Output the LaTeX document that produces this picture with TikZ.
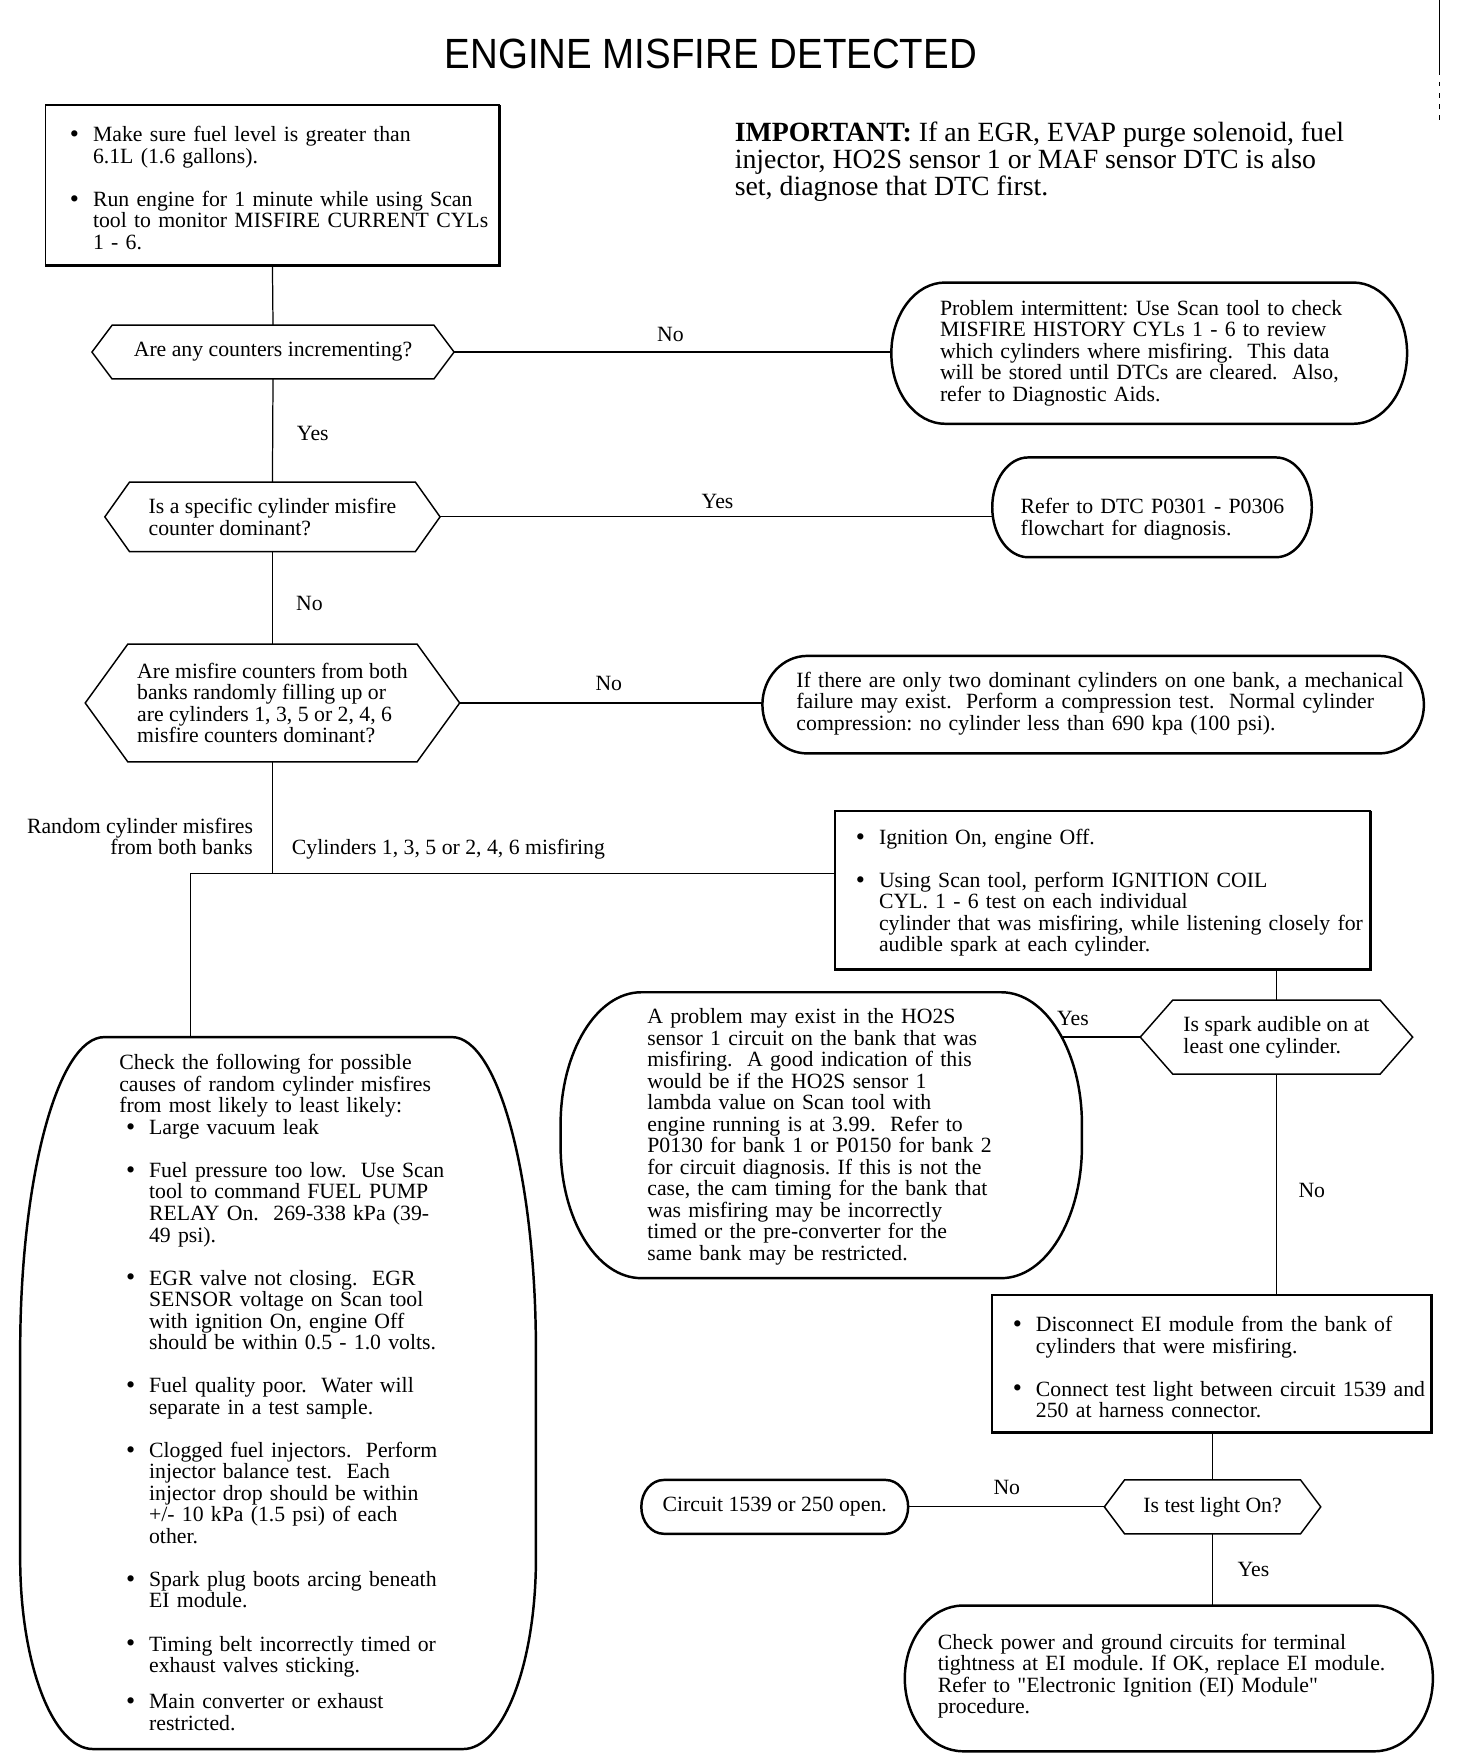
\documentclass[tikz,border=0pt]{standalone}
\usepackage{fontspec}
\setmainfont{Liberation Serif}
\newfontfamily\titlefont{Liberation Sans}
\usepackage{graphicx}
\pgfdeclarelayer{bg}
\pgfdeclarelayer{shp}
\pgfsetlayers{bg,shp,main}
\setlength{\parindent}{0pt}
\frenchspacing
\newcommand\bulmark{\raisebox{-0.08ex}{\scalebox{1.2}{\textbullet}}}
\newcommand\bul[2][0pt]{\par\noindent\hangindent=\dimexpr#1+10.3pt\relax\hangafter=1\hspace*{#1}\makebox[10.3pt][l]{\bulmark}#2\par}
\newcommand\gap[1][9.6pt]{\vspace{#1}}
% stadium: node, top rx, top ry, bottom rx, bottom ry
\newcommand\stadium[5]{%
  \begin{pgfonlayer}{shp}
  \draw[termline] ([xshift=#2]#1.north west) -- ([xshift=-#2]#1.north east)
    arc[start angle=90,end angle=0,x radius=#2,y radius=#3]
    -- ([yshift=#5]#1.south east)
    arc[start angle=0,end angle=-90,x radius=#4,y radius=#5]
    -- ([xshift=#4]#1.south west)
    arc[start angle=-90,end angle=-180,x radius=#4,y radius=#5]
    -- ([yshift=-#3]#1.north west)
    arc[start angle=180,end angle=90,x radius=#2,y radius=#3] -- cycle;
  \end{pgfonlayer}}
\newcommand\hexa[2]{%
  \begin{pgfonlayer}{shp}
  \draw[hexline] (#1.west) -- ([xshift=#2]#1.north west) -- ([xshift=-#2]#1.north east)
    -- (#1.east) -- ([xshift=-#2]#1.south east) -- ([xshift=#2]#1.south west) -- cycle;
  \end{pgfonlayer}}
\newcommand\rbox[1]{%
  \begin{pgfonlayer}{shp}
  \draw[boxline] (#1.north west) rectangle (#1.south east);
  \draw[boxshadow] (#1.north east) -- (#1.south east) -- (#1.south west);
  \end{pgfonlayer}}
\tikzset{
  frame/.style={inner sep=0pt, outer sep=0pt},
  sz/.style 2 args={minimum width=#1*0.5pt, minimum height=#2*0.5pt},
  hexnode/.style={inner sep=0pt, outer sep=0pt, align=left},
  txt/.style={anchor=west, align=left, text width=330pt, inner sep=0pt},
  lbl/.style={inner sep=0pt},
  conn/.style={line width=0.55pt},
  hexline/.style={line width=0.65pt, fill=white, line join=miter},
  termline/.style={line width=1.1pt, fill=white, line join=round},
  boxline/.style={line width=0.8pt, fill=white},
  boxshadow/.style={line width=1.4pt}
}
\begin{document}
\begin{tikzpicture}[x=0.5pt,y=-0.5pt,
  every node/.style={font=\fontsize{9.7}{9.6}\selectfont}]
\useasboundingbox (0,0) rectangle (1299,1568);
\begin{pgfonlayer}{bg}
\fill[white] (0,0) rectangle (1299,1568);
\end{pgfonlayer}

% title and note
\node[lbl] (title) at (634,48) {\titlefont\fontsize{18.85}{20}\selectfont\scalebox{0.91}[1]{ENGINE MISFIRE DETECTED}};
\node[lbl, anchor=west, align=left, font=\fontsize{12.4}{12}\selectfont] (note) at (655,144)
  {\textbf{IMPORTANT:} If an EGR, EVAP purge solenoid, fuel\\injector, HO2S sensor 1 or MAF sensor DTC is also\\set, diagnose that DTC first.};
\draw[line width=0.6pt] (1284,0) -- (1284,63);
\draw[line width=0.6pt, dash pattern=on 2pt off 3pt] (1284,63) -- (1284,107);

% shape nodes
\node[frame, sz={405}{143}] (box1) at (243,165.5) {};
\node[hexnode, sz={323}{48}] (d1) at (243.5,314) {Are any counters incrementing?};
\node[frame, sz={460}{126}] (t1) at (1025,315) {};
\node[hexnode, sz={299}{62}] (d2) at (243,461) {Is a specific cylinder misfire\\counter dominant?};
\node[frame, sz={285}{89}] (t2) at (1027.5,452.5) {};
\node[hexnode, sz={334}{105}] (d3) at (243,627) {Are misfire counters from both\\banks randomly filling up or\\are cylinders 1, 3, 5 or 2, 4, 6\\misfire counters dominant?};
\node[frame, sz={590}{87}] (t3) at (975,628.5) {};
\node[frame, sz={477}{142}] (ign) at (983.5,794) {};
\node[hexnode, sz={243}{66}] (d4) at (1138.5,925) {Is spark audible on at\\least one cylinder.};
\node[frame, sz={465}{255}] (t4) at (732.5,1012.5) {};
\node[frame, sz={392}{123}] (box3) at (1081,1216.5) {};
\node[hexnode, sz={193}{48}] (d5) at (1081.5,1344) {Is test light On?};
\node[frame, sz={238}{48}] (t5) at (691,1344) {Circuit 1539 or 250 open.};
\node[frame, sz={471}{130}] (t6) at (1042.5,1497) {};
\node[frame, sz={460}{635}] (tL) at (248,1242.5) {};
\coordinate (jL) at (170,779);

% outlines
\rbox{box1}
\rbox{ign}
\rbox{box3}
\hexa{d1}{9pt}
\hexa{d2}{11pt}
\hexa{d3}{19pt}
\hexa{d4}{14.5pt}
\hexa{d5}{9pt}
\stadium{t1}{24pt}{31.5pt}{24pt}{31.5pt}
\stadium{t2}{16pt}{22.25pt}{16pt}{22.25pt}
\stadium{t3}{20pt}{21.75pt}{20pt}{21.75pt}
\stadium{t4}{36pt}{59pt}{36pt}{59pt}
\stadium{t5}{10pt}{12pt}{10pt}{12pt}
\stadium{t6}{26pt}{32.5pt}{26pt}{32.5pt}
\stadium{tL}{37.5pt}{140pt}{32.5pt}{85pt}

% connectors
\begin{pgfonlayer}{bg}
\draw[conn] (box1.south) -- (d1.north);
\draw[conn] (d1.east) -- (d1.east -| t1.center);
\draw[conn] (d1.south) -- (d2.north);
\draw[conn] (d2.east) -- (d2.east -| t2.center);
\draw[conn] (d2.south) -- (d3.north);
\draw[conn] (d3.east) -- (d3.east -| t3.center);
\draw[conn] (d3.south) -- (d3.south |- jL);
\draw[conn] (jL) -- (jL -| ign.west);
\draw[conn] (jL) -- (jL |- tL.center);
\draw[conn] (ign.south -| d4.north) -- (d4.north);
\draw[conn] (d4.west) -- (d4.west -| t4.center);
\draw[conn] (d4.south) -- (d4.south |- box3.north);
\draw[conn] (box3.south -| d5.north) -- (d5.north);
\draw[conn] (d5.west) -- (d5.west -| t5.center);
\draw[conn] (d5.south) -- (d5.south |- t6.center);
\end{pgfonlayer}

% connector labels
\node[lbl] (l1) at (598,298) {No};
\node[lbl] (l2) at (279,387) {Yes};
\node[lbl] (l3) at (640,447) {Yes};
\node[lbl] (l4) at (276,538) {No};
\node[lbl] (l5) at (543,610) {No};
\node[lbl, anchor=east, align=right] (l6) at (226,746) {Random cylinder misfires\\from both banks};
\node[lbl, anchor=west] (l7) at (260,757) {Cylinders 1, 3, 5 or 2, 4, 6 misfiring};
\node[lbl] (l8) at (957,908) {Yes};
\node[lbl] (l9) at (1170,1062) {No};
\node[lbl] (l10) at (898,1327) {No};
\node[lbl] (l11) at (1118,1400) {Yes};

% texts
\node[txt] (box1txt) at (62,165) {%
\bul{Make sure fuel level is greater than\newline 6.1L (1.6 gallons).}\gap
\bul{Run engine for 1 minute while using Scan\newline tool to monitor MISFIRE CURRENT CYLs\newline 1 - 6.}};
\node[txt] (t1txt) at (838,315) {Problem intermittent: Use Scan tool to check\newline MISFIRE HISTORY CYLs 1 - 6 to review\newline which cylinders where misfiring.\ \ This data\newline will be stored until DTCs are cleared.\ \ Also,\newline refer to Diagnostic Aids.};
\node[txt] (t2txt) at (910,463) {Refer to DTC P0301 - P0306\newline flowchart for diagnosis.};
\node[txt] (t3txt) at (710,627.5) {If there are only two dominant cylinders on one bank, a mechanical\newline failure may exist.\ \ Perform a compression test.\ \ Normal cylinder\newline compression: no cylinder less than 690 kpa (100 psi).};
\node[txt] (igntxt) at (763,793.5) {%
\bul{Ignition On, engine Off.}\gap
\bul{Using Scan tool, perform IGNITION COIL\newline CYL. 1 - 6 test on each individual\newline cylinder that was misfiring, while listening closely for\newline audible spark at each cylinder.}};
\node[txt] (t4txt) at (577,1014) {A problem may exist in the HO2S\newline sensor 1 circuit on the bank that was\newline misfiring.\ \ A good indication of this\newline would be if the HO2S sensor 1\newline lambda value on Scan tool with\newline engine running is at 3.99.\ \ Refer to\newline P0130 for bank 1 or P0150 for bank 2\newline for circuit diagnosis. If this is not the\newline case, the cam timing for the bank that\newline was misfiring may be incorrectly\newline timed or the pre-converter for the\newline same bank may be restricted.};
\node[txt] (box3txt) at (903,1216.5) {%
\bul{Disconnect EI module from the bank of\newline cylinders that were misfiring.}\gap
\bul{Connect test light between circuit 1539 and\newline 250 at harness connector.}};
\node[txt] (t6txt) at (836,1495) {Check power and ground circuits for terminal\newline tightness at EI module. If OK, replace EI module.\newline Refer to \textquotedbl Electronic Ignition (EI) Module\textquotedbl\newline procedure.};
\node[txt] (tLtxt) at (106,1242) {%
\noindent Check the following for possible\newline causes of random cylinder misfires\newline from most likely to least likely:\par
\bul[3pt]{Large vacuum leak}\gap
\bul[3pt]{Fuel pressure too low.\ \ Use Scan\newline tool to command FUEL PUMP\newline RELAY On.\ \ 269-338 kPa (39-\newline 49 psi).}\gap
\bul[3pt]{EGR valve not closing.\ \ EGR\newline SENSOR voltage on Scan tool\newline with ignition On, engine Off\newline should be within 0.5 - 1.0 volts.}\gap
\bul[3pt]{Fuel quality poor.\ \ Water will\newline separate in a test sample.}\gap
\bul[3pt]{Clogged fuel injectors.\ \ Perform\newline injector balance test.\ \ Each\newline injector drop should be within\newline +/- 10 kPa (1.5 psi) of each\newline other.}\gap
\bul[3pt]{Spark plug boots arcing beneath\newline EI module.}\gap
\bul[3pt]{Timing belt incorrectly timed or\newline exhaust valves sticking.}\gap[6.5pt]
\bul[3pt]{Main converter or exhaust\newline restricted.}};
\end{tikzpicture}
\end{document}
